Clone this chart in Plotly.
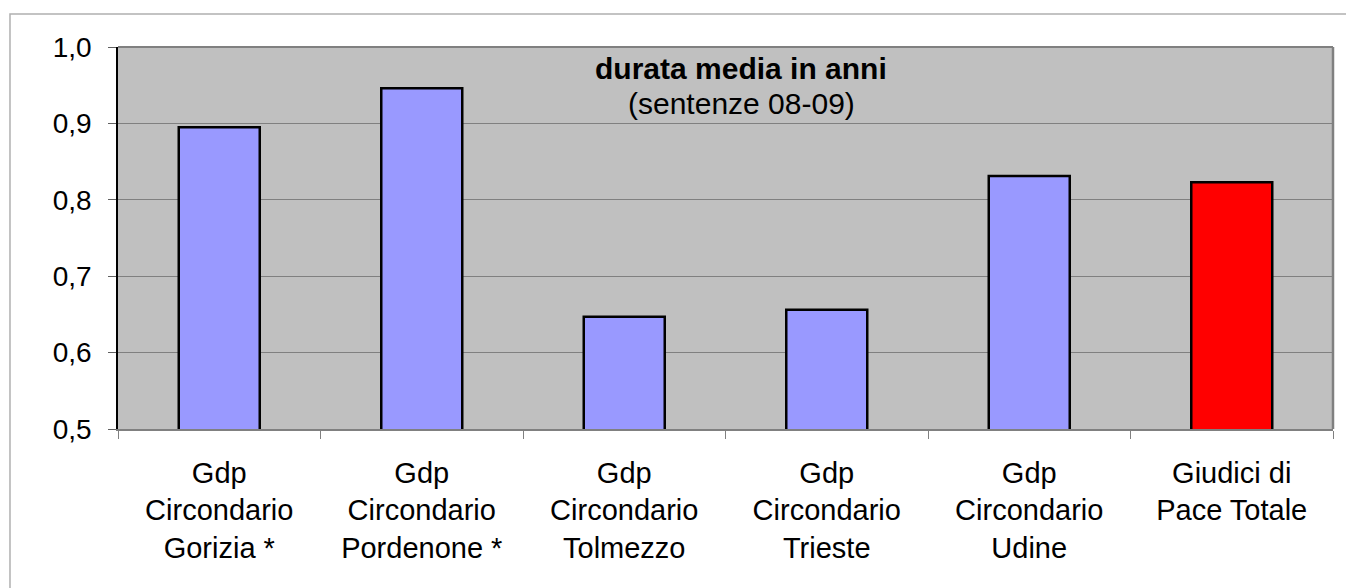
import plotly.graph_objects as go

# categorie e valori (durata media in anni)
categorie = [
    "Gdp<br>Circondario<br>Gorizia *",
    "Gdp<br>Circondario<br>Pordenone *",
    "Gdp<br>Circondario<br>Tolmezzo",
    "Gdp<br>Circondario<br>Trieste",
    "Gdp<br>Circondario<br>Udine",
    "Giudici di<br>Pace Totale",
]
durata = [0.895, 0.946, 0.647, 0.656, 0.831, 0.823]
colori = ["#9999FF", "#9999FF", "#9999FF", "#9999FF", "#9999FF", "#FF0000"]

y_ticks = [0.5, 0.6, 0.7, 0.8, 0.9, 1.0]

FONT = "Liberation Sans, Arial, sans-serif"

fig = go.Figure()
fig.add_trace(go.Bar(
    x=categorie, y=durata,
    marker=dict(color=colori, line=dict(color="black", width=2.5)),
    width=0.4,
))

titolo = dict(xref="paper", yref="paper", x=0.513, xanchor="center",
              yanchor="middle", showarrow=False)

fig.update_layout(
    width=1346, height=588,
    margin=dict(l=118, r=13, t=47, b=159),
    paper_bgcolor="white",
    plot_bgcolor="#C0C0C0",
    separators=",.",
    showlegend=False,
    font=dict(family=FONT, size=28, color="black"),
    annotations=[
        dict(titolo, text="<b>durata media in anni</b>", y=0.943,
             font=dict(family=FONT, size=30, color="black")),
        dict(titolo, text="(sentenze 08-09)", y=0.852,
             font=dict(family=FONT, size=30, color="black")),
    ],
    shapes=[
        # cornice esterna del grafico
        dict(type="rect", xref="paper", yref="paper",
             x0=-0.0889, y0=-0.5, x1=1.05, y1=1.0863,
             line=dict(color="#B0B0B0", width=1.5), layer="below"),
        # bordo destro e superiore dell'area del tracciato
        dict(type="line", xref="paper", yref="paper", x0=1, x1=1, y0=0, y1=1,
             line=dict(color="#808080", width=2.5)),
        dict(type="line", xref="paper", yref="paper", x0=0, x1=1, y0=1, y1=1,
             line=dict(color="#808080", width=2)),
    ],
)

fig.update_xaxes(
    type="category",
    tickson="boundaries",
    ticks="outside", ticklen=8, tickcolor="#808080", tickwidth=1,
    showline=True, linecolor="#808080", linewidth=1.5,
    showgrid=False,
    ticklabelstandoff=17,
    tickfont=dict(size=29),
)
fig.update_yaxes(
    range=[0.5, 1.0],
    tickvals=y_ticks,
    tickformat=".1f",
    ticks="outside", ticklen=8, tickcolor="#606060", tickwidth=1,
    showline=True, linecolor="black", linewidth=1.5,
    showgrid=True, gridcolor="#808080", gridwidth=1,
    zeroline=False,
    ticklabelstandoff=11,
    tickfont=dict(size=28),
)

# niente margine del body, così il grafico parte dall'angolo della pagina
fig.write_html("out.html", config={"displayModeBar": False},
               post_script="document.body.style.margin='0px';")
